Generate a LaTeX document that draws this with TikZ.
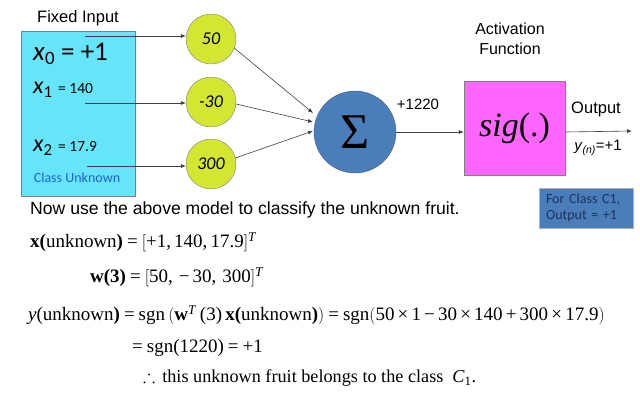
\documentclass[tikz,border=0pt]{standalone}
\usepackage{fontspec}
\usepackage{amssymb}
\setmainfont{Liberation Serif}
\setsansfont{Liberation Sans}
\newfontfamily\calfont{Carlito}
\usetikzlibrary{arrows.meta, positioning, calc}
\definecolor{inputcyan}{RGB}{102, 229, 250}
\definecolor{weightlime}{RGB}{210, 230, 50}
\definecolor{sumblue}{RGB}{74, 126, 187}
\definecolor{sigpink}{RGB}{255, 102, 255}
\definecolor{notedark}{RGB}{30, 50, 95}
\definecolor{classblue}{RGB}{30, 100, 210}
\newcommand{\fs}[1]{\fontsize{#1}{#1}\selectfont}
\newcommand{\eqsp}{\hspace{4pt}}

\begin{document}
\begin{tikzpicture}[x=1pt, y=-1pt,
    weight/.style={circle, draw=gray, fill=weightlime, minimum size=50pt, inner sep=0pt,
      font=\calfont\itshape\fs{18}},
    link/.style={draw=black!75, line width=0.6pt, -{Latex[length=5pt, width=4pt]}},
    eqline/.style={anchor=west, inner sep=0pt, font=\fs{19}}]
  \useasboundingbox[fill=white] (0,0) rectangle (640,400);

  % input box
  \node[draw=gray, fill=inputcyan, minimum width=114pt, minimum height=165pt, inner sep=0pt]
    (inputs) at (78,113.5) {};
  \node[font=\sffamily\fs{16.5}] (fixed) at (78,18) {Fixed Input};
  \node[anchor=west, inner sep=0pt, font=\calfont\fs{27}] (xzero) at (33,54) {\textit{x}\textsubscript{0} = +1};
  \node[anchor=west, inner sep=0pt, font=\calfont\fs{24}] (xone) at (33,90) {\textit{x}\textsubscript{1} {\fs{15.5}= 140}};
  \node[anchor=west, inner sep=0pt, font=\calfont\fs{24}] (xtwo) at (33,148) {\textit{x}\textsubscript{2} {\fs{15.5}= 17.9}};
  \node[font=\calfont\fs{14}, text=classblue] (unknown) at (77,178) {Class Unknown};
  \coordinate (in0) at (85,36);
  \coordinate (in1) at (85,103);
  \coordinate (in2) at (87,166);

  % weights
  \node[weight] (w0) at (211,39) {50};
  \node[weight] (w1) at (211,102) {-30};
  \node[weight] (w2) at (211,164) {300};
  \draw[link] (in0) -- (in0 -| w0.west);
  \draw[link] (in1) -- (in1 -| w1.west);
  \draw[link] (in2) -- (in2 -| w2.west);

  % summation
  \node[circle, draw=notedark!80, fill=sumblue, minimum size=82pt, inner sep=0pt,
    font=\fs{50}] (sum) at (355,132) {Σ};
  \coordinate (s0) at (313,113);
  \coordinate (s1) at (313,122);
  \coordinate (s2) at (313,131);
  \draw[link] (w0.east) ++(-2,9) coordinate (w0o) (w0o) -- (s0);
  \draw[link] (w1.east) ++(0,2) coordinate (w1o) (w1o) -- (s1);
  \draw[link] (w2.east) ++(-1,-6) coordinate (w2o) (w2o) -- (s2);
  \node[font=\sffamily\fs{15}] (net) at (418,104) {+1220};

  % activation
  \node[draw=gray, fill=sigpink, minimum width=101pt, minimum height=94pt, inner sep=0pt,
    font=\itshape\fs{34}] (sig) at (514.5,128) {sig\textup{(.)}};
  \node[font=\sffamily\fontsize{16}{20}\selectfont, align=center] (actlabel) at (510,39) {Activation\\Function};
  \draw[link] (sum) -- (sig.west |- sum);
  \coordinate (out) at (632,131);
  \draw[link] (sig.east |- sum) -- (out);
  \node[font=\sffamily\fs{16.5}] (output) at (596,109) {Output};
  \node[font=\sffamily\fs{15}] (yval) at (598,148) {\textit{y}\textsubscript{\textit{(n)}}=+1};

  % class note
  \node[draw=gray!60, fill=sumblue, minimum width=94pt, minimum height=40pt, inner xsep=7pt,
    text width=80pt, text=notedark, font=\calfont\fontsize{14}{16}\selectfont, align=left]
    (note) at (586,208) {For Class C1,\\Output = +1};

  % worked example
  \node[anchor=west, inner sep=0pt, font=\sffamily\fs{17.6}] (intro) at (30,210)
    {Now use the above model to classify the unknown fruit.};
  \node[eqline] (eqx) at (30,242)
    {\textbf{x(}unknown\textbf{)}\eqsp=\eqsp$\big[$+1,\,140,\,17.9$\big]$\textsuperscript{\textit{T}}};
  \node[eqline] (eqw) at (90,277)
    {\textbf{w(3)}\eqsp=\eqsp$\big[$50,\hspace{6pt}−\hspace{3pt}30,\hspace{6pt}300$\big]$\textsuperscript{\textit{T}}};
  \node[eqline] (eqy) at (28,315)
    {\textit{y}(unknown\textbf{)}\eqsp=\eqsp sgn\,$\Big($\textbf{w}\textsuperscript{\textit{T}}\,(3)\,\textbf{x(}unknown\textbf{)}$\Big)$\eqsp=\eqsp sgn$\big($50\,×\,1\,−\,30\,×\,140\,+\,300\,×\,17.9$\big)$};
  \node[eqline] (eqs) at (132,348) {=\eqsp sgn(1220)\eqsp=\eqsp+1};
  \node[eqline, font=\fs{18.2}] (eqc) at (143,378)
    {$\therefore$\hspace{7pt}this unknown fruit belongs to the class\hspace{9pt}\textit{C}\textsubscript{1}.};
\end{tikzpicture}
\end{document}
